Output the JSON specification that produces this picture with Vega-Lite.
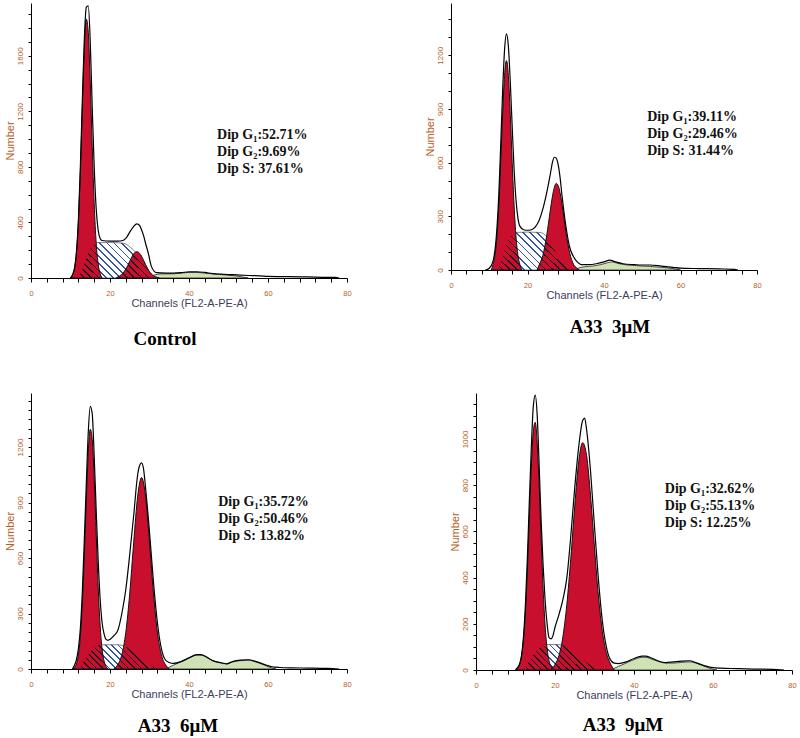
{
"$schema": "https://vega.github.io/schema/vega-lite/v6.json",
"background": "white",
"padding": {"left": 3, "top": 3, "right": 0, "bottom": 0},
"config": {
  "view": {"stroke": null},
  "axis": {"grid": false, "domainColor": "#000", "domainWidth": 1, "tickColor": "#000", "tickWidth": 1, "labelColor": "#b5611d", "labelFont": "Liberation Sans", "titleFont": "Liberation Sans", "titleFontWeight": "normal", "titleFontSize": 11, "labelFlush": false, "labelOverlap": false},
  "axisX": {"tickSize": 4, "labelFontSize": 7.5, "labelPadding": 7, "titlePadding": 1, "titleColor": "#3d3d5c"},
  "axisY": {"tickSize": 3, "labelFontSize": 8, "labelAngle": 270, "labelPadding": 4, "titlePadding": 1, "titleColor": "#b5611d"},
  "title": {"font": "Liberation Serif", "fontSize": 19, "fontWeight": "bold", "color": "#000"}
},
"datasets": {
  "c_t": [{"x":10,"y":0},{"x":11,"y":70},{"x":12,"y":420},{"x":12.5,"y":800},{"x":13,"y":1280},{"x":13.5,"y":1720},{"x":14,"y":1950},{"x":14.5,"y":1960},{"x":15,"y":1700},{"x":15.5,"y":1230},{"x":16,"y":800},{"x":16.5,"y":500},{"x":17,"y":345},{"x":17.5,"y":285},{"x":18,"y":270},{"x":20,"y":265},{"x":22,"y":265},{"x":23,"y":268},{"x":24,"y":285},{"x":25,"y":330},{"x":26,"y":372},{"x":26.8,"y":390},{"x":27.5,"y":378},{"x":28,"y":345},{"x":28.5,"y":305},{"x":29,"y":250},{"x":29.7,"y":178},{"x":30.5,"y":82},{"x":31.8,"y":38},{"x":34,"y":35},{"x":36,"y":35},{"x":38,"y":38},{"x":40,"y":45},{"x":42,"y":45},{"x":44,"y":40},{"x":46,"y":32},{"x":48,"y":28},{"x":50,"y":25},{"x":52,"y":22},{"x":55,"y":18},{"x":58,"y":15},{"x":60,"y":12},{"x":65,"y":10},{"x":70,"y":8},{"x":75,"y":5},{"x":77,"y":5},{"x":78,"y":0}],
  "c_g1": [{"x":10,"y":0},{"x":10.5,"y":21},{"x":11,"y":66},{"x":11.5,"y":178},{"x":12,"y":404},{"x":12.5,"y":769},{"x":13,"y":1229},{"x":13.5,"y":1650},{"x":14,"y":1864},{"x":14.5,"y":1769},{"x":15,"y":1412},{"x":15.5,"y":947},{"x":16,"y":535},{"x":16.5,"y":253},{"x":17,"y":101},{"x":17.5,"y":34},{"x":18,"y":0}],
  "c_g2": [{"x":21.5,"y":0},{"x":22,"y":8},{"x":23,"y":26},{"x":24,"y":64},{"x":25,"y":121},{"x":25.5,"y":150},{"x":26,"y":174},{"x":26.5,"y":188},{"x":27,"y":189},{"x":27.5,"y":177},{"x":28,"y":156},{"x":28.5,"y":127},{"x":29,"y":97},{"x":30,"y":46},{"x":31,"y":17},{"x":32,"y":4},{"x":32.5,"y":0}],
  "c_s": [{"x":12,"y":0},{"x":13,"y":60},{"x":14,"y":140},{"x":15,"y":210},{"x":16,"y":245},{"x":17,"y":255},{"x":20,"y":255},{"x":23,"y":252},{"x":24,"y":245},{"x":25,"y":225},{"x":26,"y":200},{"x":27,"y":170},{"x":28,"y":130},{"x":29,"y":90},{"x":30,"y":40},{"x":31,"y":10},{"x":32,"y":0}],
  "c_o": [{"x":12,"y":0},{"x":13,"y":60},{"x":14,"y":140},{"x":15,"y":210},{"x":16,"y":245},{"x":16.5,"y":250},{"x":17,"y":101},{"x":17.5,"y":34},{"x":18,"y":0},{"x":21.5,"y":0},{"x":22,"y":8},{"x":23,"y":26},{"x":24,"y":64},{"x":25,"y":121},{"x":26,"y":174},{"x":27,"y":170},{"x":28,"y":130},{"x":29,"y":90},{"x":30,"y":40},{"x":31,"y":10},{"x":32,"y":0}],
  "c_d": [{"x":29,"y":0},{"x":31,"y":20},{"x":33,"y":30},{"x":36,"y":30},{"x":38,"y":35},{"x":40,"y":40},{"x":42,"y":40},{"x":44,"y":35},{"x":46,"y":30},{"x":48,"y":25},{"x":50,"y":20},{"x":52,"y":15},{"x":54,"y":5},{"x":55,"y":0}],

  "m3_t": [{"x":9,"y":0},{"x":10,"y":10},{"x":11,"y":50},{"x":12,"y":230},{"x":12.5,"y":420},{"x":13,"y":700},{"x":13.5,"y":1000},{"x":14,"y":1230},{"x":14.5,"y":1320},{"x":15,"y":1250},{"x":15.5,"y":1050},{"x":16,"y":800},{"x":16.5,"y":560},{"x":17,"y":390},{"x":17.5,"y":290},{"x":18,"y":245},{"x":19,"y":225},{"x":20,"y":222},{"x":21,"y":225},{"x":22,"y":240},{"x":23,"y":275},{"x":24,"y":340},{"x":25,"y":430},{"x":26,"y":540},{"x":26.5,"y":600},{"x":27,"y":630},{"x":27.5,"y":625},{"x":28,"y":590},{"x":28.5,"y":520},{"x":29,"y":420},{"x":30,"y":250},{"x":31,"y":130},{"x":32,"y":75},{"x":33,"y":45},{"x":34,"y":30},{"x":36,"y":30},{"x":38,"y":35},{"x":40,"y":45},{"x":41.5,"y":55},{"x":43,"y":45},{"x":45,"y":35},{"x":48,"y":30},{"x":50,"y":28},{"x":52,"y":28},{"x":55,"y":22},{"x":58,"y":15},{"x":60,"y":10},{"x":65,"y":8},{"x":70,"y":6},{"x":74,"y":4},{"x":75,"y":0}],
  "m3_g1": [{"x":10.5,"y":0},{"x":11,"y":31},{"x":11.5,"y":82},{"x":12,"y":184},{"x":12.5,"y":358},{"x":13,"y":601},{"x":13.5,"y":870},{"x":14,"y":1087},{"x":14.5,"y":1170},{"x":15,"y":1087},{"x":15.5,"y":870},{"x":16,"y":601},{"x":16.5,"y":358},{"x":17,"y":184},{"x":17.5,"y":82},{"x":18,"y":31},{"x":18.5,"y":0}],
  "m3_g2": [{"x":22.5,"y":0},{"x":23,"y":26},{"x":24,"y":80},{"x":25,"y":190},{"x":25.5,"y":263},{"x":26,"y":339},{"x":26.5,"y":409},{"x":27,"y":460},{"x":27.5,"y":484},{"x":28,"y":473},{"x":28.5,"y":433},{"x":29,"y":369},{"x":29.5,"y":294},{"x":30,"y":218},{"x":31,"y":98},{"x":32,"y":33},{"x":33,"y":9},{"x":33.5,"y":0}],
  "m3_s": [{"x":12,"y":0},{"x":13,"y":50},{"x":14,"y":110},{"x":15,"y":165},{"x":16,"y":200},{"x":17,"y":210},{"x":20,"y":212},{"x":23,"y":210},{"x":24,"y":205},{"x":25,"y":185},{"x":26,"y":150},{"x":27,"y":115},{"x":28,"y":80},{"x":29,"y":50},{"x":30,"y":25},{"x":31,"y":10},{"x":32,"y":0}],
  "m3_o": [{"x":12,"y":0},{"x":13,"y":50},{"x":14,"y":110},{"x":15,"y":165},{"x":16,"y":200},{"x":16.5,"y":205},{"x":17,"y":184},{"x":17.5,"y":82},{"x":18,"y":31},{"x":18.5,"y":0},{"x":22.5,"y":0},{"x":23,"y":26},{"x":24,"y":80},{"x":25,"y":185},{"x":26,"y":150},{"x":27,"y":115},{"x":28,"y":80},{"x":29,"y":50},{"x":30,"y":25},{"x":31,"y":10},{"x":32,"y":0}],
  "m3_d": [{"x":32,"y":0},{"x":34,"y":15},{"x":36,"y":20},{"x":38,"y":25},{"x":40,"y":35},{"x":42,"y":45},{"x":44,"y":35},{"x":46,"y":28},{"x":48,"y":25},{"x":50,"y":22},{"x":52,"y":20},{"x":55,"y":15},{"x":58,"y":8},{"x":60,"y":0}],

  "m6_t": [{"x":10.5,"y":0},{"x":11,"y":20},{"x":11.5,"y":50},{"x":12,"y":110},{"x":12.5,"y":220},{"x":13,"y":420},{"x":13.5,"y":700},{"x":14,"y":1000},{"x":14.5,"y":1280},{"x":15,"y":1420},{"x":15.5,"y":1380},{"x":16,"y":1150},{"x":16.5,"y":860},{"x":17,"y":590},{"x":17.5,"y":380},{"x":18,"y":250},{"x":18.5,"y":190},{"x":19,"y":160},{"x":19.5,"y":155},{"x":20,"y":160},{"x":21,"y":180},{"x":22,"y":210},{"x":23,"y":300},{"x":24,"y":430},{"x":25,"y":620},{"x":26,"y":830},{"x":27,"y":1050},{"x":27.5,"y":1100},{"x":28,"y":1114},{"x":28.5,"y":1080},{"x":29,"y":980},{"x":30,"y":740},{"x":31,"y":470},{"x":32,"y":250},{"x":33,"y":110},{"x":34,"y":50},{"x":35,"y":35},{"x":36,"y":30},{"x":38,"y":40},{"x":40,"y":60},{"x":42,"y":78},{"x":43,"y":78},{"x":44,"y":70},{"x":46,"y":45},{"x":48,"y":35},{"x":49.5,"y":28},{"x":51,"y":40},{"x":53,"y":48},{"x":55,"y":50},{"x":57,"y":40},{"x":59,"y":25},{"x":61,"y":12},{"x":63,"y":8},{"x":66,"y":6},{"x":70,"y":5},{"x":75,"y":3},{"x":78,"y":0}],
  "m6_g1": [{"x":10.5,"y":0},{"x":11,"y":9},{"x":11.5,"y":28},{"x":12,"y":76},{"x":12.5,"y":176},{"x":13,"y":352},{"x":13.5,"y":610},{"x":14,"y":909},{"x":14.5,"y":1169},{"x":15,"y":1296},{"x":15.5,"y":1240},{"x":16,"y":1023},{"x":16.5,"y":728},{"x":17,"y":447},{"x":17.5,"y":237},{"x":18,"y":108},{"x":18.5,"y":43},{"x":19,"y":14},{"x":19.5,"y":0}],
  "m6_g2": [{"x":21,"y":0},{"x":22,"y":25},{"x":23,"y":78},{"x":24,"y":198},{"x":25,"y":409},{"x":26,"y":685},{"x":27,"y":933},{"x":28,"y":1035},{"x":29,"y":933},{"x":30,"y":685},{"x":31,"y":409},{"x":32,"y":198},{"x":33,"y":78},{"x":34,"y":25},{"x":35,"y":0}],
  "m6_s": [{"x":12,"y":0},{"x":13,"y":30},{"x":14,"y":60},{"x":15,"y":90},{"x":16,"y":115},{"x":17,"y":128},{"x":18,"y":131},{"x":20,"y":131},{"x":22,"y":131},{"x":23,"y":128},{"x":24,"y":120},{"x":25,"y":105},{"x":26,"y":90},{"x":27,"y":70},{"x":28,"y":55},{"x":29,"y":40},{"x":30,"y":25},{"x":31,"y":12},{"x":32,"y":0}],
  "m6_o": [{"x":12,"y":0},{"x":13,"y":30},{"x":14,"y":60},{"x":15,"y":90},{"x":16,"y":115},{"x":17,"y":128},{"x":17.5,"y":130},{"x":18,"y":108},{"x":18.5,"y":43},{"x":19,"y":14},{"x":19.5,"y":2},{"x":20.5,"y":2},{"x":21,"y":5},{"x":22,"y":25},{"x":23,"y":78},{"x":24,"y":120},{"x":25,"y":105},{"x":26,"y":90},{"x":27,"y":70},{"x":28,"y":55},{"x":29,"y":40},{"x":30,"y":25},{"x":31,"y":12},{"x":32,"y":0}],
  "m6_d": [{"x":34,"y":0},{"x":35,"y":10},{"x":36,"y":20},{"x":38,"y":40},{"x":40,"y":60},{"x":42,"y":75},{"x":43,"y":75},{"x":44,"y":68},{"x":46,"y":45},{"x":48,"y":32},{"x":49.5,"y":28},{"x":51,"y":38},{"x":53,"y":45},{"x":55,"y":48},{"x":57,"y":38},{"x":59,"y":22},{"x":61,"y":5},{"x":62,"y":0}],

  "m9_t": [{"x":10,"y":0},{"x":10.5,"y":10},{"x":11,"y":25},{"x":11.5,"y":60},{"x":12,"y":140},{"x":12.5,"y":280},{"x":13,"y":480},{"x":13.5,"y":730},{"x":14,"y":960},{"x":14.5,"y":1140},{"x":15,"y":1190},{"x":15.5,"y":1100},{"x":16,"y":880},{"x":16.5,"y":640},{"x":17,"y":450},{"x":17.5,"y":300},{"x":18,"y":200},{"x":18.5,"y":140},{"x":19,"y":135},{"x":19.5,"y":150},{"x":20,"y":185},{"x":21,"y":240},{"x":22,"y":305},{"x":23,"y":400},{"x":24,"y":580},{"x":25,"y":790},{"x":26,"y":965},{"x":27,"y":1080},{"x":27.5,"y":1090},{"x":28,"y":1040},{"x":29,"y":860},{"x":30,"y":620},{"x":31,"y":390},{"x":32,"y":210},{"x":33,"y":100},{"x":34,"y":45},{"x":35,"y":30},{"x":36,"y":28},{"x":38,"y":35},{"x":40,"y":50},{"x":42,"y":60},{"x":43,"y":60},{"x":44,"y":55},{"x":46,"y":40},{"x":48,"y":32},{"x":50,"y":35},{"x":52,"y":38},{"x":54,"y":40},{"x":56,"y":30},{"x":58,"y":18},{"x":60,"y":10},{"x":62,"y":8},{"x":66,"y":6},{"x":70,"y":4},{"x":75,"y":3},{"x":78,"y":0}],
  "m9_g1": [{"x":10,"y":0},{"x":10.5,"y":8},{"x":11,"y":22},{"x":11.5,"y":56},{"x":12,"y":126},{"x":12.5,"y":247},{"x":13,"y":428},{"x":13.5,"y":652},{"x":14,"y":874},{"x":14.5,"y":1032},{"x":15,"y":1072},{"x":15.5,"y":980},{"x":16,"y":789},{"x":16.5,"y":559},{"x":17,"y":349},{"x":17.5,"y":191},{"x":18,"y":92},{"x":18.5,"y":39},{"x":19,"y":15},{"x":19.5,"y":0}],
  "m9_g2": [{"x":19,"y":0},{"x":20,"y":24},{"x":21,"y":63},{"x":22,"y":144},{"x":23,"y":284},{"x":24,"y":484},{"x":25,"y":711},{"x":26,"y":901},{"x":27,"y":984},{"x":28,"y":928},{"x":29,"y":754},{"x":30,"y":529},{"x":31,"y":320},{"x":32,"y":166},{"x":33,"y":75},{"x":34,"y":29},{"x":35,"y":0}],
  "m9_s": [{"x":12,"y":0},{"x":13,"y":25},{"x":14,"y":50},{"x":15,"y":75},{"x":16,"y":95},{"x":17,"y":105},{"x":18,"y":110},{"x":20,"y":110},{"x":22,"y":108},{"x":23,"y":100},{"x":24,"y":90},{"x":25,"y":75},{"x":26,"y":60},{"x":27,"y":45},{"x":28,"y":32},{"x":29,"y":20},{"x":30,"y":10},{"x":31,"y":3},{"x":32,"y":0}],
  "m9_o": [{"x":12,"y":0},{"x":13,"y":25},{"x":14,"y":50},{"x":15,"y":75},{"x":16,"y":95},{"x":17,"y":105},{"x":17.5,"y":108},{"x":18,"y":92},{"x":18.5,"y":39},{"x":19,"y":15},{"x":19.5,"y":12},{"x":20,"y":24},{"x":21,"y":63},{"x":22,"y":108},{"x":23,"y":100},{"x":24,"y":90},{"x":25,"y":75},{"x":26,"y":60},{"x":27,"y":45},{"x":28,"y":32},{"x":29,"y":20},{"x":30,"y":10},{"x":31,"y":3},{"x":32,"y":0}],
  "m9_d": [{"x":34,"y":0},{"x":36,"y":15},{"x":38,"y":30},{"x":40,"y":45},{"x":42,"y":55},{"x":43,"y":55},{"x":44,"y":50},{"x":46,"y":38},{"x":48,"y":30},{"x":50,"y":30},{"x":52,"y":33},{"x":54,"y":35},{"x":56,"y":28},{"x":58,"y":15},{"x":60,"y":3},{"x":61,"y":0}]
},
"spacing": 43,
"vconcat": [
  {"hconcat": [
    {"width": 316, "height": 275,
     "title": {"text": "Control", "orient": "bottom", "dx": -24, "offset": 21},
     "layer": [
      {"encoding": {
         "x": {"field": "x", "type": "quantitative", "scale": {"domain": [0, 80], "nice": false}, "axis": {"title": "Channels (FL2-A-PE-A)", "values": [0,4,8,12,16,20,24,28,32,36,40,44,48,52,56,60,64,68,72,76,80], "labelExpr": "datum.value % 20 === 0 ? datum.label : ''"}},
         "y": {"field": "y", "type": "quantitative", "scale": {"domain": [0, 1980], "nice": false}, "axis": {"title": "Number", "values": [0,100,200,300,400,500,600,700,800,900,1000,1100,1200,1300,1400,1500,1600,1700,1800,1900], "labelExpr": "datum.value % 400 === 0 ? format(datum.value, 'd') : ''"}}
       },
       "layer": [
        {"data": {"name": "c_d"}, "mark": {"type": "area", "interpolate": "monotone", "fill": "#cfe2b3", "stroke": "#222", "strokeWidth": 0.8}},
        {"data": {"name": "c_s"}, "mark": {"type": "area", "interpolate": "monotone", "stroke": "#333", "strokeWidth": 0.6, "fill": {"gradient": "linear", "x1": 0, "y1": 1, "x2": 1.207, "y2": 0.459, "stops": [{"offset":0,"color":"#ffffff"},{"offset":0.047,"color":"#ffffff"},{"offset":0.047,"color":"#3355a5"},{"offset":0.0625,"color":"#3355a5"},{"offset":0.0625,"color":"#ffffff"},{"offset":0.1095,"color":"#ffffff"},{"offset":0.1095,"color":"#3355a5"},{"offset":0.125,"color":"#3355a5"},{"offset":0.125,"color":"#ffffff"},{"offset":0.172,"color":"#ffffff"},{"offset":0.172,"color":"#3355a5"},{"offset":0.1875,"color":"#3355a5"},{"offset":0.1875,"color":"#ffffff"},{"offset":0.2345,"color":"#ffffff"},{"offset":0.2345,"color":"#3355a5"},{"offset":0.25,"color":"#3355a5"},{"offset":0.25,"color":"#ffffff"},{"offset":0.297,"color":"#ffffff"},{"offset":0.297,"color":"#3355a5"},{"offset":0.3125,"color":"#3355a5"},{"offset":0.3125,"color":"#ffffff"},{"offset":0.3595,"color":"#ffffff"},{"offset":0.3595,"color":"#3355a5"},{"offset":0.375,"color":"#3355a5"},{"offset":0.375,"color":"#ffffff"},{"offset":0.422,"color":"#ffffff"},{"offset":0.422,"color":"#3355a5"},{"offset":0.4375,"color":"#3355a5"},{"offset":0.4375,"color":"#ffffff"},{"offset":0.4845,"color":"#ffffff"},{"offset":0.4845,"color":"#3355a5"},{"offset":0.5,"color":"#3355a5"},{"offset":0.5,"color":"#ffffff"},{"offset":0.547,"color":"#ffffff"},{"offset":0.547,"color":"#3355a5"},{"offset":0.5625,"color":"#3355a5"},{"offset":0.5625,"color":"#ffffff"},{"offset":0.6095,"color":"#ffffff"},{"offset":0.6095,"color":"#3355a5"},{"offset":0.625,"color":"#3355a5"},{"offset":0.625,"color":"#ffffff"},{"offset":0.672,"color":"#ffffff"},{"offset":0.672,"color":"#3355a5"},{"offset":0.6875,"color":"#3355a5"},{"offset":0.6875,"color":"#ffffff"},{"offset":0.7345,"color":"#ffffff"},{"offset":0.7345,"color":"#3355a5"},{"offset":0.75,"color":"#3355a5"},{"offset":0.75,"color":"#ffffff"},{"offset":0.797,"color":"#ffffff"},{"offset":0.797,"color":"#3355a5"},{"offset":0.8125,"color":"#3355a5"},{"offset":0.8125,"color":"#ffffff"},{"offset":0.8595,"color":"#ffffff"},{"offset":0.8595,"color":"#3355a5"},{"offset":0.875,"color":"#3355a5"},{"offset":0.875,"color":"#ffffff"},{"offset":0.922,"color":"#ffffff"},{"offset":0.922,"color":"#3355a5"},{"offset":0.9375,"color":"#3355a5"},{"offset":0.9375,"color":"#ffffff"},{"offset":0.9845,"color":"#ffffff"},{"offset":0.9845,"color":"#3355a5"},{"offset":1,"color":"#3355a5"}]}}},
        {"data": {"name": "c_g1"}, "mark": {"type": "area", "interpolate": "monotone", "fill": "#c8102e", "stroke": "#111", "strokeWidth": 1}},
        {"data": {"name": "c_g2"}, "mark": {"type": "area", "interpolate": "monotone", "fill": "#c8102e", "stroke": "#111", "strokeWidth": 1}},
        {"data": {"name": "c_o"}, "mark": {"type": "area", "interpolate": "monotone", "fill": {"gradient": "linear", "x1": 0, "y1": 1, "x2": 1.207, "y2": 0.459, "stops": [{"offset":0,"color":"rgba(0,0,0,0)"},{"offset":0.047,"color":"rgba(0,0,0,0)"},{"offset":0.047,"color":"#1a1a1a"},{"offset":0.0625,"color":"#1a1a1a"},{"offset":0.0625,"color":"rgba(0,0,0,0)"},{"offset":0.1095,"color":"rgba(0,0,0,0)"},{"offset":0.1095,"color":"#1a1a1a"},{"offset":0.125,"color":"#1a1a1a"},{"offset":0.125,"color":"rgba(0,0,0,0)"},{"offset":0.172,"color":"rgba(0,0,0,0)"},{"offset":0.172,"color":"#1a1a1a"},{"offset":0.1875,"color":"#1a1a1a"},{"offset":0.1875,"color":"rgba(0,0,0,0)"},{"offset":0.2345,"color":"rgba(0,0,0,0)"},{"offset":0.2345,"color":"#1a1a1a"},{"offset":0.25,"color":"#1a1a1a"},{"offset":0.25,"color":"rgba(0,0,0,0)"},{"offset":0.297,"color":"rgba(0,0,0,0)"},{"offset":0.297,"color":"#1a1a1a"},{"offset":0.3125,"color":"#1a1a1a"},{"offset":0.3125,"color":"rgba(0,0,0,0)"},{"offset":0.3595,"color":"rgba(0,0,0,0)"},{"offset":0.3595,"color":"#1a1a1a"},{"offset":0.375,"color":"#1a1a1a"},{"offset":0.375,"color":"rgba(0,0,0,0)"},{"offset":0.422,"color":"rgba(0,0,0,0)"},{"offset":0.422,"color":"#1a1a1a"},{"offset":0.4375,"color":"#1a1a1a"},{"offset":0.4375,"color":"rgba(0,0,0,0)"},{"offset":0.4845,"color":"rgba(0,0,0,0)"},{"offset":0.4845,"color":"#1a1a1a"},{"offset":0.5,"color":"#1a1a1a"},{"offset":0.5,"color":"rgba(0,0,0,0)"},{"offset":0.547,"color":"rgba(0,0,0,0)"},{"offset":0.547,"color":"#1a1a1a"},{"offset":0.5625,"color":"#1a1a1a"},{"offset":0.5625,"color":"rgba(0,0,0,0)"},{"offset":0.6095,"color":"rgba(0,0,0,0)"},{"offset":0.6095,"color":"#1a1a1a"},{"offset":0.625,"color":"#1a1a1a"},{"offset":0.625,"color":"rgba(0,0,0,0)"},{"offset":0.672,"color":"rgba(0,0,0,0)"},{"offset":0.672,"color":"#1a1a1a"},{"offset":0.6875,"color":"#1a1a1a"},{"offset":0.6875,"color":"rgba(0,0,0,0)"},{"offset":0.7345,"color":"rgba(0,0,0,0)"},{"offset":0.7345,"color":"#1a1a1a"},{"offset":0.75,"color":"#1a1a1a"},{"offset":0.75,"color":"rgba(0,0,0,0)"},{"offset":0.797,"color":"rgba(0,0,0,0)"},{"offset":0.797,"color":"#1a1a1a"},{"offset":0.8125,"color":"#1a1a1a"},{"offset":0.8125,"color":"rgba(0,0,0,0)"},{"offset":0.8595,"color":"rgba(0,0,0,0)"},{"offset":0.8595,"color":"#1a1a1a"},{"offset":0.875,"color":"#1a1a1a"},{"offset":0.875,"color":"rgba(0,0,0,0)"},{"offset":0.922,"color":"rgba(0,0,0,0)"},{"offset":0.922,"color":"#1a1a1a"},{"offset":0.9375,"color":"#1a1a1a"},{"offset":0.9375,"color":"rgba(0,0,0,0)"},{"offset":0.9845,"color":"rgba(0,0,0,0)"},{"offset":0.9845,"color":"#1a1a1a"},{"offset":1,"color":"#1a1a1a"}]}}},
        {"data": {"name": "c_t"}, "mark": {"type": "line", "interpolate": "monotone", "color": "#000", "strokeWidth": 1.2}}
       ]},
      {"data": {"values": [{}]}, "mark": {"type": "text", "text": ["Dip G₁:52.71%", "Dip G₂:9.69%", "Dip S: 37.61%"], "align": "left", "baseline": "alphabetic", "font": "Liberation Serif", "fontSize": 14, "fontWeight": "bold", "lineHeight": 17, "color": "#111"},
       "encoding": {
         "x": {"datum": 47.1, "type": "quantitative", "scale": {"domain": [0, 80], "nice": false}, "axis": {"title": "Channels (FL2-A-PE-A)", "values": [0,4,8,12,16,20,24,28,32,36,40,44,48,52,56,60,64,68,72,76,80], "labelExpr": "datum.value % 20 === 0 ? datum.label : ''"}},
         "y": {"datum": 1002, "type": "quantitative", "scale": {"domain": [0, 1980], "nice": false}, "axis": {"title": "Number", "values": [0,100,200,300,400,500,600,700,800,900,1000,1100,1200,1300,1400,1500,1600,1700,1800,1900], "labelExpr": "datum.value % 400 === 0 ? format(datum.value, 'd') : ''"}}
       }}
     ]},
    {"width": 306, "height": 267,
     "title": {"text": "A33 \u00a03μM", "orient": "bottom", "dx": 6, "offset": 17},
     "layer": [
      {"encoding": {
         "x": {"field": "x", "type": "quantitative", "scale": {"domain": [0, 80], "nice": false}, "axis": {"title": "Channels (FL2-A-PE-A)", "values": [0,4,8,12,16,20,24,28,32,36,40,44,48,52,56,60,64,68,72,76,80], "labelExpr": "datum.value % 20 === 0 ? datum.label : ''"}},
         "y": {"field": "y", "type": "quantitative", "scale": {"domain": [0, 1492], "nice": false}, "axis": {"title": "Number", "values": [0,100,200,300,400,500,600,700,800,900,1000,1100,1200,1300,1400], "labelExpr": "datum.value % 300 === 0 ? format(datum.value, 'd') : ''"}}
       },
       "layer": [
        {"data": {"name": "m3_d"}, "mark": {"type": "area", "interpolate": "monotone", "fill": "#cfe2b3", "stroke": "#222", "strokeWidth": 0.8}},
        {"data": {"name": "m3_s"}, "mark": {"type": "area", "interpolate": "monotone", "stroke": "#333", "strokeWidth": 0.6, "fill": {"gradient": "linear", "x1": 0, "y1": 1, "x2": 1.2, "y2": 0.405, "stops": [{"offset":0,"color":"#ffffff"},{"offset":0.047,"color":"#ffffff"},{"offset":0.047,"color":"#3355a5"},{"offset":0.0625,"color":"#3355a5"},{"offset":0.0625,"color":"#ffffff"},{"offset":0.1095,"color":"#ffffff"},{"offset":0.1095,"color":"#3355a5"},{"offset":0.125,"color":"#3355a5"},{"offset":0.125,"color":"#ffffff"},{"offset":0.172,"color":"#ffffff"},{"offset":0.172,"color":"#3355a5"},{"offset":0.1875,"color":"#3355a5"},{"offset":0.1875,"color":"#ffffff"},{"offset":0.2345,"color":"#ffffff"},{"offset":0.2345,"color":"#3355a5"},{"offset":0.25,"color":"#3355a5"},{"offset":0.25,"color":"#ffffff"},{"offset":0.297,"color":"#ffffff"},{"offset":0.297,"color":"#3355a5"},{"offset":0.3125,"color":"#3355a5"},{"offset":0.3125,"color":"#ffffff"},{"offset":0.3595,"color":"#ffffff"},{"offset":0.3595,"color":"#3355a5"},{"offset":0.375,"color":"#3355a5"},{"offset":0.375,"color":"#ffffff"},{"offset":0.422,"color":"#ffffff"},{"offset":0.422,"color":"#3355a5"},{"offset":0.4375,"color":"#3355a5"},{"offset":0.4375,"color":"#ffffff"},{"offset":0.4845,"color":"#ffffff"},{"offset":0.4845,"color":"#3355a5"},{"offset":0.5,"color":"#3355a5"},{"offset":0.5,"color":"#ffffff"},{"offset":0.547,"color":"#ffffff"},{"offset":0.547,"color":"#3355a5"},{"offset":0.5625,"color":"#3355a5"},{"offset":0.5625,"color":"#ffffff"},{"offset":0.6095,"color":"#ffffff"},{"offset":0.6095,"color":"#3355a5"},{"offset":0.625,"color":"#3355a5"},{"offset":0.625,"color":"#ffffff"},{"offset":0.672,"color":"#ffffff"},{"offset":0.672,"color":"#3355a5"},{"offset":0.6875,"color":"#3355a5"},{"offset":0.6875,"color":"#ffffff"},{"offset":0.7345,"color":"#ffffff"},{"offset":0.7345,"color":"#3355a5"},{"offset":0.75,"color":"#3355a5"},{"offset":0.75,"color":"#ffffff"},{"offset":0.797,"color":"#ffffff"},{"offset":0.797,"color":"#3355a5"},{"offset":0.8125,"color":"#3355a5"},{"offset":0.8125,"color":"#ffffff"},{"offset":0.8595,"color":"#ffffff"},{"offset":0.8595,"color":"#3355a5"},{"offset":0.875,"color":"#3355a5"},{"offset":0.875,"color":"#ffffff"},{"offset":0.922,"color":"#ffffff"},{"offset":0.922,"color":"#3355a5"},{"offset":0.9375,"color":"#3355a5"},{"offset":0.9375,"color":"#ffffff"},{"offset":0.9845,"color":"#ffffff"},{"offset":0.9845,"color":"#3355a5"},{"offset":1,"color":"#3355a5"}]}}},
        {"data": {"name": "m3_g1"}, "mark": {"type": "area", "interpolate": "monotone", "fill": "#c8102e", "stroke": "#111", "strokeWidth": 1}},
        {"data": {"name": "m3_g2"}, "mark": {"type": "area", "interpolate": "monotone", "fill": "#c8102e", "stroke": "#111", "strokeWidth": 1}},
        {"data": {"name": "m3_o"}, "mark": {"type": "area", "interpolate": "monotone", "fill": {"gradient": "linear", "x1": 0, "y1": 1, "x2": 1.2, "y2": 0.405, "stops": [{"offset":0,"color":"rgba(0,0,0,0)"},{"offset":0.047,"color":"rgba(0,0,0,0)"},{"offset":0.047,"color":"#1a1a1a"},{"offset":0.0625,"color":"#1a1a1a"},{"offset":0.0625,"color":"rgba(0,0,0,0)"},{"offset":0.1095,"color":"rgba(0,0,0,0)"},{"offset":0.1095,"color":"#1a1a1a"},{"offset":0.125,"color":"#1a1a1a"},{"offset":0.125,"color":"rgba(0,0,0,0)"},{"offset":0.172,"color":"rgba(0,0,0,0)"},{"offset":0.172,"color":"#1a1a1a"},{"offset":0.1875,"color":"#1a1a1a"},{"offset":0.1875,"color":"rgba(0,0,0,0)"},{"offset":0.2345,"color":"rgba(0,0,0,0)"},{"offset":0.2345,"color":"#1a1a1a"},{"offset":0.25,"color":"#1a1a1a"},{"offset":0.25,"color":"rgba(0,0,0,0)"},{"offset":0.297,"color":"rgba(0,0,0,0)"},{"offset":0.297,"color":"#1a1a1a"},{"offset":0.3125,"color":"#1a1a1a"},{"offset":0.3125,"color":"rgba(0,0,0,0)"},{"offset":0.3595,"color":"rgba(0,0,0,0)"},{"offset":0.3595,"color":"#1a1a1a"},{"offset":0.375,"color":"#1a1a1a"},{"offset":0.375,"color":"rgba(0,0,0,0)"},{"offset":0.422,"color":"rgba(0,0,0,0)"},{"offset":0.422,"color":"#1a1a1a"},{"offset":0.4375,"color":"#1a1a1a"},{"offset":0.4375,"color":"rgba(0,0,0,0)"},{"offset":0.4845,"color":"rgba(0,0,0,0)"},{"offset":0.4845,"color":"#1a1a1a"},{"offset":0.5,"color":"#1a1a1a"},{"offset":0.5,"color":"rgba(0,0,0,0)"},{"offset":0.547,"color":"rgba(0,0,0,0)"},{"offset":0.547,"color":"#1a1a1a"},{"offset":0.5625,"color":"#1a1a1a"},{"offset":0.5625,"color":"rgba(0,0,0,0)"},{"offset":0.6095,"color":"rgba(0,0,0,0)"},{"offset":0.6095,"color":"#1a1a1a"},{"offset":0.625,"color":"#1a1a1a"},{"offset":0.625,"color":"rgba(0,0,0,0)"},{"offset":0.672,"color":"rgba(0,0,0,0)"},{"offset":0.672,"color":"#1a1a1a"},{"offset":0.6875,"color":"#1a1a1a"},{"offset":0.6875,"color":"rgba(0,0,0,0)"},{"offset":0.7345,"color":"rgba(0,0,0,0)"},{"offset":0.7345,"color":"#1a1a1a"},{"offset":0.75,"color":"#1a1a1a"},{"offset":0.75,"color":"rgba(0,0,0,0)"},{"offset":0.797,"color":"rgba(0,0,0,0)"},{"offset":0.797,"color":"#1a1a1a"},{"offset":0.8125,"color":"#1a1a1a"},{"offset":0.8125,"color":"rgba(0,0,0,0)"},{"offset":0.8595,"color":"rgba(0,0,0,0)"},{"offset":0.8595,"color":"#1a1a1a"},{"offset":0.875,"color":"#1a1a1a"},{"offset":0.875,"color":"rgba(0,0,0,0)"},{"offset":0.922,"color":"rgba(0,0,0,0)"},{"offset":0.922,"color":"#1a1a1a"},{"offset":0.9375,"color":"#1a1a1a"},{"offset":0.9375,"color":"rgba(0,0,0,0)"},{"offset":0.9845,"color":"rgba(0,0,0,0)"},{"offset":0.9845,"color":"#1a1a1a"},{"offset":1,"color":"#1a1a1a"}]}}},
        {"data": {"name": "m3_t"}, "mark": {"type": "line", "interpolate": "monotone", "color": "#000", "strokeWidth": 1.2}}
       ]},
      {"data": {"values": [{}]}, "mark": {"type": "text", "text": ["Dip G₁:39.11%", "Dip G₂:29.46%", "Dip S: 31.44%"], "align": "left", "baseline": "alphabetic", "font": "Liberation Serif", "fontSize": 14, "fontWeight": "bold", "lineHeight": 17, "color": "#111"},
       "encoding": {
         "x": {"datum": 51.3, "type": "quantitative", "scale": {"domain": [0, 80], "nice": false}, "axis": {"title": "Channels (FL2-A-PE-A)", "values": [0,4,8,12,16,20,24,28,32,36,40,44,48,52,56,60,64,68,72,76,80], "labelExpr": "datum.value % 20 === 0 ? datum.label : ''"}},
         "y": {"datum": 834, "type": "quantitative", "scale": {"domain": [0, 1492], "nice": false}, "axis": {"title": "Number", "values": [0,100,200,300,400,500,600,700,800,900,1000,1100,1200,1300,1400], "labelExpr": "datum.value % 300 === 0 ? format(datum.value, 'd') : ''"}}
       }}
     ]}
  ], "spacing": 104, "bounds": "flush"},
  {"hconcat": [
    {"width": 316, "height": 276,
     "title": {"text": "A33 \u00a06μM", "orient": "bottom", "dx": -11, "offset": 17},
     "layer": [
      {"encoding": {
         "x": {"field": "x", "type": "quantitative", "scale": {"domain": [0, 80], "nice": false}, "axis": {"title": "Channels (FL2-A-PE-A)", "values": [0,4,8,12,16,20,24,28,32,36,40,44,48,52,56,60,64,68,72,76,80], "labelExpr": "datum.value % 20 === 0 ? datum.label : ''"}},
         "y": {"field": "y", "type": "quantitative", "scale": {"domain": [0, 1492], "nice": false}, "axis": {"title": "Number", "values": [0,50,100,150,200,250,300,350,400,450,500,550,600,650,700,750,800,850,900,950,1000,1050,1100,1150,1200,1250,1300,1350,1400,1450], "labelExpr": "datum.value % 300 === 0 ? format(datum.value, 'd') : ''"}}
       },
       "layer": [
        {"data": {"name": "m6_d"}, "mark": {"type": "area", "interpolate": "monotone", "fill": "#cfe2b3", "stroke": "#222", "strokeWidth": 0.8}},
        {"data": {"name": "m6_s"}, "mark": {"type": "area", "interpolate": "monotone", "stroke": "#333", "strokeWidth": 0.6, "fill": {"gradient": "linear", "x1": 0, "y1": 1, "x2": 1.194, "y2": 0.635, "stops": [{"offset":0,"color":"#ffffff"},{"offset":0.047,"color":"#ffffff"},{"offset":0.047,"color":"#3355a5"},{"offset":0.0625,"color":"#3355a5"},{"offset":0.0625,"color":"#ffffff"},{"offset":0.1095,"color":"#ffffff"},{"offset":0.1095,"color":"#3355a5"},{"offset":0.125,"color":"#3355a5"},{"offset":0.125,"color":"#ffffff"},{"offset":0.172,"color":"#ffffff"},{"offset":0.172,"color":"#3355a5"},{"offset":0.1875,"color":"#3355a5"},{"offset":0.1875,"color":"#ffffff"},{"offset":0.2345,"color":"#ffffff"},{"offset":0.2345,"color":"#3355a5"},{"offset":0.25,"color":"#3355a5"},{"offset":0.25,"color":"#ffffff"},{"offset":0.297,"color":"#ffffff"},{"offset":0.297,"color":"#3355a5"},{"offset":0.3125,"color":"#3355a5"},{"offset":0.3125,"color":"#ffffff"},{"offset":0.3595,"color":"#ffffff"},{"offset":0.3595,"color":"#3355a5"},{"offset":0.375,"color":"#3355a5"},{"offset":0.375,"color":"#ffffff"},{"offset":0.422,"color":"#ffffff"},{"offset":0.422,"color":"#3355a5"},{"offset":0.4375,"color":"#3355a5"},{"offset":0.4375,"color":"#ffffff"},{"offset":0.4845,"color":"#ffffff"},{"offset":0.4845,"color":"#3355a5"},{"offset":0.5,"color":"#3355a5"},{"offset":0.5,"color":"#ffffff"},{"offset":0.547,"color":"#ffffff"},{"offset":0.547,"color":"#3355a5"},{"offset":0.5625,"color":"#3355a5"},{"offset":0.5625,"color":"#ffffff"},{"offset":0.6095,"color":"#ffffff"},{"offset":0.6095,"color":"#3355a5"},{"offset":0.625,"color":"#3355a5"},{"offset":0.625,"color":"#ffffff"},{"offset":0.672,"color":"#ffffff"},{"offset":0.672,"color":"#3355a5"},{"offset":0.6875,"color":"#3355a5"},{"offset":0.6875,"color":"#ffffff"},{"offset":0.7345,"color":"#ffffff"},{"offset":0.7345,"color":"#3355a5"},{"offset":0.75,"color":"#3355a5"},{"offset":0.75,"color":"#ffffff"},{"offset":0.797,"color":"#ffffff"},{"offset":0.797,"color":"#3355a5"},{"offset":0.8125,"color":"#3355a5"},{"offset":0.8125,"color":"#ffffff"},{"offset":0.8595,"color":"#ffffff"},{"offset":0.8595,"color":"#3355a5"},{"offset":0.875,"color":"#3355a5"},{"offset":0.875,"color":"#ffffff"},{"offset":0.922,"color":"#ffffff"},{"offset":0.922,"color":"#3355a5"},{"offset":0.9375,"color":"#3355a5"},{"offset":0.9375,"color":"#ffffff"},{"offset":0.9845,"color":"#ffffff"},{"offset":0.9845,"color":"#3355a5"},{"offset":1,"color":"#3355a5"}]}}},
        {"data": {"name": "m6_g1"}, "mark": {"type": "area", "interpolate": "monotone", "fill": "#c8102e", "stroke": "#111", "strokeWidth": 1}},
        {"data": {"name": "m6_g2"}, "mark": {"type": "area", "interpolate": "monotone", "fill": "#c8102e", "stroke": "#111", "strokeWidth": 1}},
        {"data": {"name": "m6_o"}, "mark": {"type": "area", "interpolate": "monotone", "fill": {"gradient": "linear", "x1": 0, "y1": 1, "x2": 1.194, "y2": 0.635, "stops": [{"offset":0,"color":"rgba(0,0,0,0)"},{"offset":0.047,"color":"rgba(0,0,0,0)"},{"offset":0.047,"color":"#1a1a1a"},{"offset":0.0625,"color":"#1a1a1a"},{"offset":0.0625,"color":"rgba(0,0,0,0)"},{"offset":0.1095,"color":"rgba(0,0,0,0)"},{"offset":0.1095,"color":"#1a1a1a"},{"offset":0.125,"color":"#1a1a1a"},{"offset":0.125,"color":"rgba(0,0,0,0)"},{"offset":0.172,"color":"rgba(0,0,0,0)"},{"offset":0.172,"color":"#1a1a1a"},{"offset":0.1875,"color":"#1a1a1a"},{"offset":0.1875,"color":"rgba(0,0,0,0)"},{"offset":0.2345,"color":"rgba(0,0,0,0)"},{"offset":0.2345,"color":"#1a1a1a"},{"offset":0.25,"color":"#1a1a1a"},{"offset":0.25,"color":"rgba(0,0,0,0)"},{"offset":0.297,"color":"rgba(0,0,0,0)"},{"offset":0.297,"color":"#1a1a1a"},{"offset":0.3125,"color":"#1a1a1a"},{"offset":0.3125,"color":"rgba(0,0,0,0)"},{"offset":0.3595,"color":"rgba(0,0,0,0)"},{"offset":0.3595,"color":"#1a1a1a"},{"offset":0.375,"color":"#1a1a1a"},{"offset":0.375,"color":"rgba(0,0,0,0)"},{"offset":0.422,"color":"rgba(0,0,0,0)"},{"offset":0.422,"color":"#1a1a1a"},{"offset":0.4375,"color":"#1a1a1a"},{"offset":0.4375,"color":"rgba(0,0,0,0)"},{"offset":0.4845,"color":"rgba(0,0,0,0)"},{"offset":0.4845,"color":"#1a1a1a"},{"offset":0.5,"color":"#1a1a1a"},{"offset":0.5,"color":"rgba(0,0,0,0)"},{"offset":0.547,"color":"rgba(0,0,0,0)"},{"offset":0.547,"color":"#1a1a1a"},{"offset":0.5625,"color":"#1a1a1a"},{"offset":0.5625,"color":"rgba(0,0,0,0)"},{"offset":0.6095,"color":"rgba(0,0,0,0)"},{"offset":0.6095,"color":"#1a1a1a"},{"offset":0.625,"color":"#1a1a1a"},{"offset":0.625,"color":"rgba(0,0,0,0)"},{"offset":0.672,"color":"rgba(0,0,0,0)"},{"offset":0.672,"color":"#1a1a1a"},{"offset":0.6875,"color":"#1a1a1a"},{"offset":0.6875,"color":"rgba(0,0,0,0)"},{"offset":0.7345,"color":"rgba(0,0,0,0)"},{"offset":0.7345,"color":"#1a1a1a"},{"offset":0.75,"color":"#1a1a1a"},{"offset":0.75,"color":"rgba(0,0,0,0)"},{"offset":0.797,"color":"rgba(0,0,0,0)"},{"offset":0.797,"color":"#1a1a1a"},{"offset":0.8125,"color":"#1a1a1a"},{"offset":0.8125,"color":"rgba(0,0,0,0)"},{"offset":0.8595,"color":"rgba(0,0,0,0)"},{"offset":0.8595,"color":"#1a1a1a"},{"offset":0.875,"color":"#1a1a1a"},{"offset":0.875,"color":"rgba(0,0,0,0)"},{"offset":0.922,"color":"rgba(0,0,0,0)"},{"offset":0.922,"color":"#1a1a1a"},{"offset":0.9375,"color":"#1a1a1a"},{"offset":0.9375,"color":"rgba(0,0,0,0)"},{"offset":0.9845,"color":"rgba(0,0,0,0)"},{"offset":0.9845,"color":"#1a1a1a"},{"offset":1,"color":"#1a1a1a"}]}}},
        {"data": {"name": "m6_t"}, "mark": {"type": "line", "interpolate": "monotone", "color": "#000", "strokeWidth": 1.2}}
       ]},
      {"data": {"values": [{}]}, "mark": {"type": "text", "text": ["Dip G₁:35.72%", "Dip G₂:50.46%", "Dip S: 13.82%"], "align": "left", "baseline": "alphabetic", "font": "Liberation Serif", "fontSize": 14, "fontWeight": "bold", "lineHeight": 17, "color": "#111"},
       "encoding": {
         "x": {"datum": 47.4, "type": "quantitative", "scale": {"domain": [0, 80], "nice": false}, "axis": {"title": "Channels (FL2-A-PE-A)", "values": [0,4,8,12,16,20,24,28,32,36,40,44,48,52,56,60,64,68,72,76,80], "labelExpr": "datum.value % 20 === 0 ? datum.label : ''"}},
         "y": {"datum": 879, "type": "quantitative", "scale": {"domain": [0, 1492], "nice": false}, "axis": {"title": "Number", "values": [0,50,100,150,200,250,300,350,400,450,500,550,600,650,700,750,800,850,900,950,1000,1050,1100,1150,1200,1250,1300,1350,1400,1450], "labelExpr": "datum.value % 300 === 0 ? format(datum.value, 'd') : ''"}}
       }}
     ]},
    {"width": 316, "height": 277,
     "title": {"text": "A33 \u00a09μM", "orient": "bottom", "dx": -11, "offset": 15},
     "layer": [
      {"encoding": {
         "x": {"field": "x", "type": "quantitative", "scale": {"domain": [0, 80], "nice": false}, "axis": {"title": "Channels (FL2-A-PE-A)", "values": [0,4,8,12,16,20,24,28,32,36,40,44,48,52,56,60,64,68,72,76,80], "labelExpr": "datum.value % 20 === 0 ? datum.label : ''"}},
         "y": {"field": "y", "type": "quantitative", "scale": {"domain": [0, 1199], "nice": false}, "axis": {"title": "Number", "values": [0,50,100,150,200,250,300,350,400,450,500,550,600,650,700,750,800,850,900,950,1000,1050,1100,1150], "labelExpr": "datum.value % 200 === 0 ? format(datum.value, 'd') : ''"}}
       },
       "layer": [
        {"data": {"name": "m9_d"}, "mark": {"type": "area", "interpolate": "monotone", "fill": "#cfe2b3", "stroke": "#222", "strokeWidth": 0.8}},
        {"data": {"name": "m9_s"}, "mark": {"type": "area", "interpolate": "monotone", "stroke": "#333", "strokeWidth": 0.6, "fill": {"gradient": "linear", "x1": 0, "y1": 1, "x2": 1.198, "y2": 0.617, "stops": [{"offset":0,"color":"#ffffff"},{"offset":0.047,"color":"#ffffff"},{"offset":0.047,"color":"#3355a5"},{"offset":0.0625,"color":"#3355a5"},{"offset":0.0625,"color":"#ffffff"},{"offset":0.1095,"color":"#ffffff"},{"offset":0.1095,"color":"#3355a5"},{"offset":0.125,"color":"#3355a5"},{"offset":0.125,"color":"#ffffff"},{"offset":0.172,"color":"#ffffff"},{"offset":0.172,"color":"#3355a5"},{"offset":0.1875,"color":"#3355a5"},{"offset":0.1875,"color":"#ffffff"},{"offset":0.2345,"color":"#ffffff"},{"offset":0.2345,"color":"#3355a5"},{"offset":0.25,"color":"#3355a5"},{"offset":0.25,"color":"#ffffff"},{"offset":0.297,"color":"#ffffff"},{"offset":0.297,"color":"#3355a5"},{"offset":0.3125,"color":"#3355a5"},{"offset":0.3125,"color":"#ffffff"},{"offset":0.3595,"color":"#ffffff"},{"offset":0.3595,"color":"#3355a5"},{"offset":0.375,"color":"#3355a5"},{"offset":0.375,"color":"#ffffff"},{"offset":0.422,"color":"#ffffff"},{"offset":0.422,"color":"#3355a5"},{"offset":0.4375,"color":"#3355a5"},{"offset":0.4375,"color":"#ffffff"},{"offset":0.4845,"color":"#ffffff"},{"offset":0.4845,"color":"#3355a5"},{"offset":0.5,"color":"#3355a5"},{"offset":0.5,"color":"#ffffff"},{"offset":0.547,"color":"#ffffff"},{"offset":0.547,"color":"#3355a5"},{"offset":0.5625,"color":"#3355a5"},{"offset":0.5625,"color":"#ffffff"},{"offset":0.6095,"color":"#ffffff"},{"offset":0.6095,"color":"#3355a5"},{"offset":0.625,"color":"#3355a5"},{"offset":0.625,"color":"#ffffff"},{"offset":0.672,"color":"#ffffff"},{"offset":0.672,"color":"#3355a5"},{"offset":0.6875,"color":"#3355a5"},{"offset":0.6875,"color":"#ffffff"},{"offset":0.7345,"color":"#ffffff"},{"offset":0.7345,"color":"#3355a5"},{"offset":0.75,"color":"#3355a5"},{"offset":0.75,"color":"#ffffff"},{"offset":0.797,"color":"#ffffff"},{"offset":0.797,"color":"#3355a5"},{"offset":0.8125,"color":"#3355a5"},{"offset":0.8125,"color":"#ffffff"},{"offset":0.8595,"color":"#ffffff"},{"offset":0.8595,"color":"#3355a5"},{"offset":0.875,"color":"#3355a5"},{"offset":0.875,"color":"#ffffff"},{"offset":0.922,"color":"#ffffff"},{"offset":0.922,"color":"#3355a5"},{"offset":0.9375,"color":"#3355a5"},{"offset":0.9375,"color":"#ffffff"},{"offset":0.9845,"color":"#ffffff"},{"offset":0.9845,"color":"#3355a5"},{"offset":1,"color":"#3355a5"}]}}},
        {"data": {"name": "m9_g1"}, "mark": {"type": "area", "interpolate": "monotone", "fill": "#c8102e", "stroke": "#111", "strokeWidth": 1}},
        {"data": {"name": "m9_g2"}, "mark": {"type": "area", "interpolate": "monotone", "fill": "#c8102e", "stroke": "#111", "strokeWidth": 1}},
        {"data": {"name": "m9_o"}, "mark": {"type": "area", "interpolate": "monotone", "fill": {"gradient": "linear", "x1": 0, "y1": 1, "x2": 1.198, "y2": 0.617, "stops": [{"offset":0,"color":"rgba(0,0,0,0)"},{"offset":0.047,"color":"rgba(0,0,0,0)"},{"offset":0.047,"color":"#1a1a1a"},{"offset":0.0625,"color":"#1a1a1a"},{"offset":0.0625,"color":"rgba(0,0,0,0)"},{"offset":0.1095,"color":"rgba(0,0,0,0)"},{"offset":0.1095,"color":"#1a1a1a"},{"offset":0.125,"color":"#1a1a1a"},{"offset":0.125,"color":"rgba(0,0,0,0)"},{"offset":0.172,"color":"rgba(0,0,0,0)"},{"offset":0.172,"color":"#1a1a1a"},{"offset":0.1875,"color":"#1a1a1a"},{"offset":0.1875,"color":"rgba(0,0,0,0)"},{"offset":0.2345,"color":"rgba(0,0,0,0)"},{"offset":0.2345,"color":"#1a1a1a"},{"offset":0.25,"color":"#1a1a1a"},{"offset":0.25,"color":"rgba(0,0,0,0)"},{"offset":0.297,"color":"rgba(0,0,0,0)"},{"offset":0.297,"color":"#1a1a1a"},{"offset":0.3125,"color":"#1a1a1a"},{"offset":0.3125,"color":"rgba(0,0,0,0)"},{"offset":0.3595,"color":"rgba(0,0,0,0)"},{"offset":0.3595,"color":"#1a1a1a"},{"offset":0.375,"color":"#1a1a1a"},{"offset":0.375,"color":"rgba(0,0,0,0)"},{"offset":0.422,"color":"rgba(0,0,0,0)"},{"offset":0.422,"color":"#1a1a1a"},{"offset":0.4375,"color":"#1a1a1a"},{"offset":0.4375,"color":"rgba(0,0,0,0)"},{"offset":0.4845,"color":"rgba(0,0,0,0)"},{"offset":0.4845,"color":"#1a1a1a"},{"offset":0.5,"color":"#1a1a1a"},{"offset":0.5,"color":"rgba(0,0,0,0)"},{"offset":0.547,"color":"rgba(0,0,0,0)"},{"offset":0.547,"color":"#1a1a1a"},{"offset":0.5625,"color":"#1a1a1a"},{"offset":0.5625,"color":"rgba(0,0,0,0)"},{"offset":0.6095,"color":"rgba(0,0,0,0)"},{"offset":0.6095,"color":"#1a1a1a"},{"offset":0.625,"color":"#1a1a1a"},{"offset":0.625,"color":"rgba(0,0,0,0)"},{"offset":0.672,"color":"rgba(0,0,0,0)"},{"offset":0.672,"color":"#1a1a1a"},{"offset":0.6875,"color":"#1a1a1a"},{"offset":0.6875,"color":"rgba(0,0,0,0)"},{"offset":0.7345,"color":"rgba(0,0,0,0)"},{"offset":0.7345,"color":"#1a1a1a"},{"offset":0.75,"color":"#1a1a1a"},{"offset":0.75,"color":"rgba(0,0,0,0)"},{"offset":0.797,"color":"rgba(0,0,0,0)"},{"offset":0.797,"color":"#1a1a1a"},{"offset":0.8125,"color":"#1a1a1a"},{"offset":0.8125,"color":"rgba(0,0,0,0)"},{"offset":0.8595,"color":"rgba(0,0,0,0)"},{"offset":0.8595,"color":"#1a1a1a"},{"offset":0.875,"color":"#1a1a1a"},{"offset":0.875,"color":"rgba(0,0,0,0)"},{"offset":0.922,"color":"rgba(0,0,0,0)"},{"offset":0.922,"color":"#1a1a1a"},{"offset":0.9375,"color":"#1a1a1a"},{"offset":0.9375,"color":"rgba(0,0,0,0)"},{"offset":0.9845,"color":"rgba(0,0,0,0)"},{"offset":0.9845,"color":"#1a1a1a"},{"offset":1,"color":"#1a1a1a"}]}}},
        {"data": {"name": "m9_t"}, "mark": {"type": "line", "interpolate": "monotone", "color": "#000", "strokeWidth": 1.2}}
       ]},
      {"data": {"values": [{}]}, "mark": {"type": "text", "text": ["Dip G₁:32.62%", "Dip G₂:55.13%", "Dip S: 12.25%"], "align": "left", "baseline": "alphabetic", "font": "Liberation Serif", "fontSize": 14, "fontWeight": "bold", "lineHeight": 17, "color": "#111"},
       "encoding": {
         "x": {"datum": 47.8, "type": "quantitative", "scale": {"domain": [0, 80], "nice": false}, "axis": {"title": "Channels (FL2-A-PE-A)", "values": [0,4,8,12,16,20,24,28,32,36,40,44,48,52,56,60,64,68,72,76,80], "labelExpr": "datum.value % 20 === 0 ? datum.label : ''"}},
         "y": {"datum": 766, "type": "quantitative", "scale": {"domain": [0, 1199], "nice": false}, "axis": {"title": "Number", "values": [0,50,100,150,200,250,300,350,400,450,500,550,600,650,700,750,800,850,900,950,1000,1050,1100,1150], "labelExpr": "datum.value % 200 === 0 ? format(datum.value, 'd') : ''"}}
       }}
     ]}
  ], "spacing": 129, "bounds": "flush"}
]
}
